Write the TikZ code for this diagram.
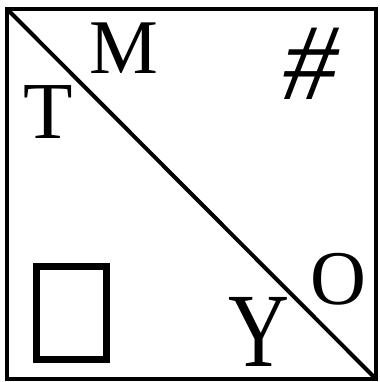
\documentclass[tikz,border=0pt]{standalone}
\usepackage{fontspec}
\setmainfont{Liberation Serif}
\tikzset{
  letter/.style = {inner sep = 0pt, font = \fontsize{#1}{#1}\selectfont},
  letter/.default = 22
}
\begin{document}
\begin{tikzpicture} [x = 0.01cm, y = -0.01cm, line width = 0.04cm]
	\useasboundingbox (0,0) rectangle (380,382);
	\draw (7,9) rectangle (376,379); %frame
	\coordinate (tl) at (7,9);
	\coordinate (br) at (376,379);
	\draw (tl) -- (br); %diagonal
	\draw [line width = 0.07cm] (36.5,266.5) rectangle (106.5,359.5); %box
	\node [letter = 22] (m) at (124,48) {M};
	\node [letter = 23] (t) at (48,112) {T};
	\node [letter = 31, xslant = 0.2, transform shape] (hash) at (312,64) {\#};
	\node [letter = 22] (o) at (338,279) {O};
	\node [letter = 24] (y) at (259,332) {\scalebox{1}[1.25]{Y}};
\end{tikzpicture}
\end{document}
